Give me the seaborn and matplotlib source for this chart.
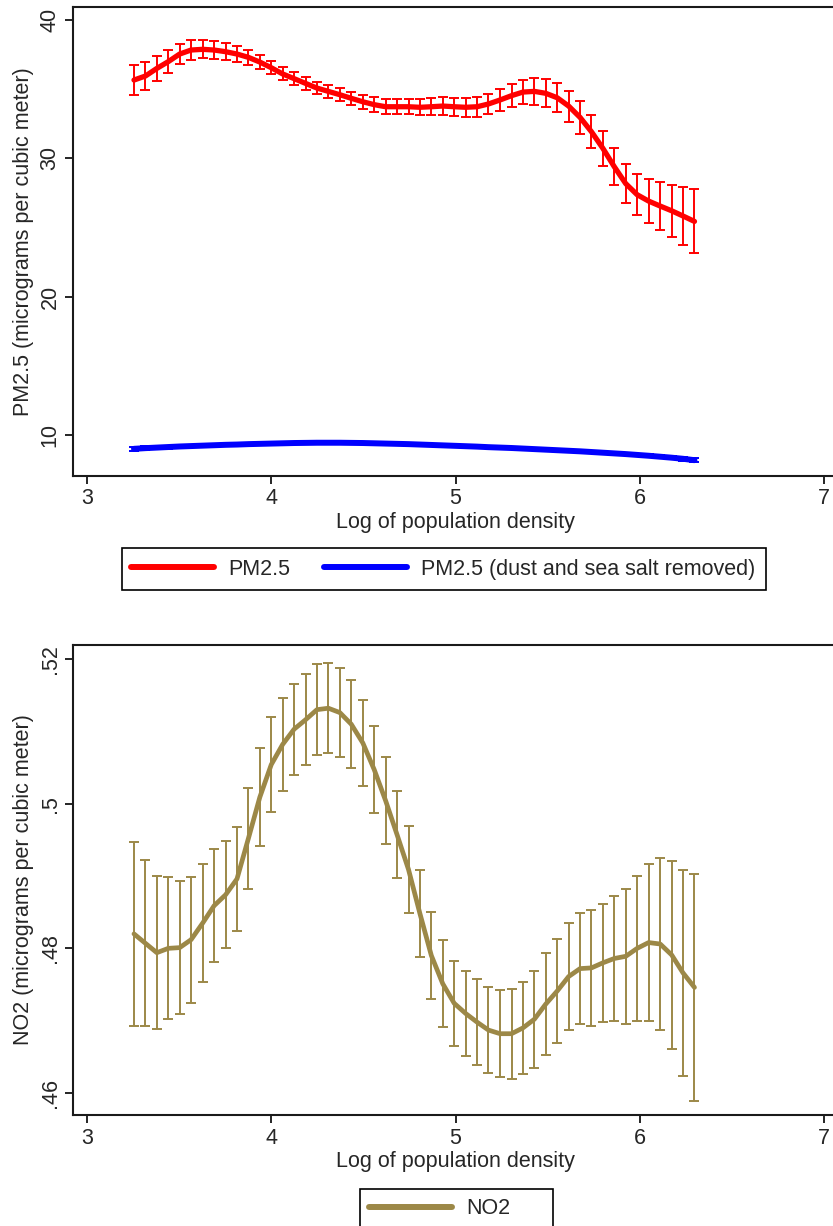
import numpy as np
import pandas as pd
import matplotlib
matplotlib.use("Agg")
import matplotlib.pyplot as plt
import seaborn as sns
from matplotlib.lines import Line2D
from matplotlib.patches import Rectangle

# ---------------- data ----------------
log_density = [3.255, 3.317, 3.379, 3.441, 3.503, 3.565, 3.628, 3.690, 3.752, 3.814,
               3.876, 3.938, 4.000, 4.062, 4.124, 4.186, 4.248, 4.310, 4.372, 4.434,
               4.497, 4.559, 4.621, 4.683, 4.745, 4.807, 4.869, 4.931, 4.993, 5.055,
               5.117, 5.179, 5.242, 5.304, 5.366, 5.428, 5.490, 5.552, 5.614, 5.676,
               5.738, 5.800, 5.862, 5.924, 5.986, 6.048, 6.111, 6.173, 6.235, 6.297]

pm25_mean = [35.66, 35.95, 36.50, 36.99, 37.54, 37.83, 37.88, 37.83, 37.71, 37.54,
             37.30, 36.96, 36.55, 36.10, 35.76, 35.42, 35.08, 34.84, 34.60, 34.34,
             34.09, 33.88, 33.73, 33.73, 33.73, 33.69, 33.73, 33.78, 33.73, 33.69,
             33.73, 33.93, 34.22, 34.53, 34.79, 34.84, 34.70, 34.38, 33.78, 32.96,
             31.92, 30.72, 29.39, 28.17, 27.37, 26.91, 26.55, 26.21, 25.83, 25.44]

pm25_ci = [1.10, 1.00, 0.89, 0.81, 0.74, 0.70, 0.64, 0.64, 0.60, 0.57,
           0.54, 0.51, 0.48, 0.47, 0.48, 0.45, 0.45, 0.46, 0.45, 0.48,
           0.51, 0.52, 0.53, 0.53, 0.55, 0.57, 0.60, 0.65, 0.66, 0.70,
           0.72, 0.75, 0.81, 0.84, 0.88, 0.98, 1.00, 1.05, 1.12, 1.18,
           1.19, 1.27, 1.34, 1.40, 1.48, 1.62, 1.74, 1.89, 2.07, 2.31]

pm25_clean_mean = [9.00, 9.05, 9.09, 9.13, 9.17, 9.20, 9.23, 9.26, 9.29, 9.31,
                   9.34, 9.36, 9.38, 9.40, 9.42, 9.43, 9.44, 9.44, 9.44, 9.43,
                   9.42, 9.40, 9.38, 9.36, 9.34, 9.31, 9.28, 9.25, 9.22, 9.19,
                   9.16, 9.12, 9.09, 9.06, 9.02, 8.98, 8.94, 8.90, 8.86, 8.82,
                   8.77, 8.72, 8.67, 8.62, 8.56, 8.50, 8.43, 8.36, 8.28, 8.18]

pm25_clean_ci = [0.14, 0.13, 0.12, 0.11, 0.10, 0.10, 0.09, 0.09, 0.08, 0.08,
                 0.08, 0.07, 0.07, 0.07, 0.07, 0.07, 0.07, 0.07, 0.07, 0.07,
                 0.07, 0.07, 0.07, 0.07, 0.07, 0.07, 0.07, 0.07, 0.07, 0.07,
                 0.07, 0.07, 0.07, 0.07, 0.08, 0.08, 0.08, 0.08, 0.08, 0.09,
                 0.09, 0.09, 0.10, 0.10, 0.10, 0.11, 0.11, 0.12, 0.13, 0.14]

no2_mean = [0.4820, 0.4807, 0.4794, 0.4800, 0.4801, 0.4812, 0.4835, 0.4859, 0.4874, 0.4896,
            0.4952, 0.5009, 0.5054, 0.5082, 0.5103, 0.5116, 0.5130, 0.5132, 0.5126, 0.5110,
            0.5084, 0.5047, 0.5004, 0.4957, 0.4909, 0.4848, 0.4790, 0.4751, 0.4724, 0.4710,
            0.4698, 0.4687, 0.4682, 0.4682, 0.4690, 0.4702, 0.4723, 0.4741, 0.4761, 0.4772,
            0.4773, 0.4780, 0.4786, 0.4789, 0.4800, 0.4808, 0.4806, 0.4791, 0.4766, 0.4746]

no2_ci = [0.0127, 0.0115, 0.0106, 0.0098, 0.0092, 0.0087, 0.0082, 0.0078, 0.0074, 0.0072,
          0.0070, 0.0068, 0.0066, 0.0064, 0.0063, 0.0063, 0.0063, 0.0062, 0.0061, 0.0061,
          0.0060, 0.0060, 0.0060, 0.0060, 0.0060, 0.0060, 0.0060, 0.0060, 0.0059, 0.0059,
          0.0059, 0.0059, 0.0060, 0.0062, 0.0064, 0.0067, 0.0070, 0.0072, 0.0074, 0.0077,
          0.0080, 0.0082, 0.0086, 0.0093, 0.0100, 0.0109, 0.0119, 0.0130, 0.0142, 0.0157]

x_ticks = [3, 4, 5, 6, 7]
x_tick_labels = ["3", "4", "5", "6", "7"]
pm_y_ticks = [10, 20, 30, 40]
pm_y_tick_labels = ["10", "20", "30", "40"]
no2_y_ticks = [0.46, 0.48, 0.50, 0.52]
no2_y_tick_labels = [".46", ".48", ".5", ".52"]

x_title = "Log of population density"
pm_y_title = "PM2.5 (micrograms per cubic meter)"
no2_y_title = "NO2 (micrograms per cubic meter)"
pm_series = ["PM2.5", "PM2.5 (dust and sea salt removed)"]
no2_series = ["NO2"]

# ---------------- style ----------------
sns.set_theme(style="white")
plt.rcParams['font.family'] = ['Liberation Sans', 'DejaVu Sans']
FS = 15.5
plt.rcParams['font.size'] = FS

RED = "#FF0000"
BLUE = "#0000FF"
SAND = "#9C8847"

W, H = 833, 1226
fig = plt.figure(figsize=(W / 100, H / 100), dpi=100)


def px_axes(l, t, r, b):
    return fig.add_axes([l / W, 1 - b / H, (r - l) / W, (b - t) / H])


ax1 = px_axes(73, 7, 838, 476)
ax2 = px_axes(73, 645, 838, 1115)

df = pd.DataFrame({
    "log_density": log_density,
    "pm25": pm25_mean,
    "pm25_ci": pm25_ci,
    "pm25_clean": pm25_clean_mean,
    "pm25_clean_ci": pm25_clean_ci,
    "no2": no2_mean,
    "no2_ci": no2_ci,
})

# ---- top panel ----
ax1.errorbar(df["log_density"], df["pm25"], yerr=df["pm25_ci"], fmt="none",
             ecolor=RED, elinewidth=1.4, capsize=3.6, capthick=1.4, zorder=2)
sns.lineplot(data=df, x="log_density", y="pm25", color=RED, linewidth=3.8,
             ax=ax1, zorder=3, legend=False)
ax1.errorbar(df["log_density"], df["pm25_clean"], yerr=df["pm25_clean_ci"], fmt="none",
             ecolor=BLUE, elinewidth=1.4, capsize=3.6, capthick=1.4, zorder=2)
sns.lineplot(data=df, x="log_density", y="pm25_clean", color=BLUE, linewidth=4.3,
             ax=ax1, zorder=3, legend=False)

# ---- bottom panel ----
ax2.errorbar(df["log_density"], df["no2"], yerr=df["no2_ci"], fmt="none",
             ecolor=SAND, elinewidth=1.4, capsize=3.6, capthick=1.4, zorder=2)
sns.lineplot(data=df, x="log_density", y="no2", color=SAND, linewidth=3.4,
             ax=ax2, zorder=3, legend=False)

for ax, yt, ytl, ytitle, ylim in [
    (ax1, pm_y_ticks, pm_y_tick_labels, pm_y_title, (7.036, 40.94)),
    (ax2, no2_y_ticks, no2_y_tick_labels, no2_y_title, (0.45696, 0.52194)),
]:
    ax.set_xlim(2.924, 7.076)
    ax.set_ylim(*ylim)
    ax.set_xticks(x_ticks)
    ax.set_xticklabels(x_tick_labels)
    ax.set_yticks(yt)
    ax.set_yticklabels(ytl, rotation=90, va="center")
    ax.set_xlabel(x_title, fontsize=FS, labelpad=2)
    ax.set_ylabel(ytitle, fontsize=FS, labelpad=4)
    ax.tick_params(axis="both", direction="out", length=6, width=1.2,
                   color="black", labelsize=FS, pad=3, bottom=True, left=True)
    for s in ax.spines.values():
        s.set_visible(True)
        s.set_color("#1a1a1a")
        s.set_linewidth(1.5)
    ax.grid(False)
    ax.set_facecolor("white")

# ---- legends ----
h_top = [Line2D([0], [0], color=RED, lw=4.3), Line2D([0], [0], color=BLUE, lw=4.3)]
fig.legend(h_top, pm_series, loc="center left",
           bbox_to_anchor=(131 / W, 1 - 569 / H), ncol=2, frameon=False,
           borderpad=0, borderaxespad=0, handlelength=3.85, handletextpad=0.65,
           columnspacing=1.6, fontsize=FS)
fig.add_artist(Rectangle((122 / W, 1 - 590 / H), (766 - 122) / W, (590 - 548) / H,
                         transform=fig.transFigure, fill=False, edgecolor="black",
                         linewidth=1.2))

h_bot = [Line2D([0], [0], color=SAND, lw=4.3)]
fig.legend(h_bot, no2_series, loc="center left",
           bbox_to_anchor=(369 / W, 1 - 1209 / H), frameon=False,
           borderpad=0, borderaxespad=0, handlelength=3.85, handletextpad=0.65,
           fontsize=FS)
fig.add_artist(Rectangle((360 / W, 1 - 1232 / H), (553 - 360) / W, (1232 - 1189) / H,
                         transform=fig.transFigure, fill=False, edgecolor="black",
                         linewidth=1.2))

fig.savefig("out.png", dpi=100, facecolor="white")
